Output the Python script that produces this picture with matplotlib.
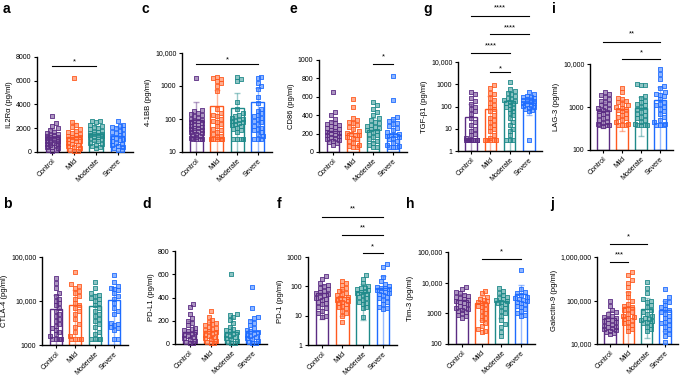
import matplotlib
matplotlib.use("Agg")
import matplotlib.pyplot as plt
import numpy as np
from matplotlib.colors import to_rgba
from matplotlib.ticker import FuncFormatter, NullLocator

plt.rcParams['font.family'] = ['Liberation Sans', 'DejaVu Sans']

groups = ['Control', 'Mild', 'Moderate', 'Severe']
colors = ['#5b2c83', '#ff5a1f', '#1f8a8a', '#1e6cff']

# values (pg/ml), one list per group
il2ra = [
    [3050, 2450, 2200, 2000, 1850, 1700, 1600, 1500, 1450, 1400, 1350, 1300, 1250, 1200, 1150, 1100,
     1050, 1000, 950, 900, 850, 800, 700, 650, 600, 550, 450, 400, 300, 200, 150, 100],
    [6250, 2500, 2300, 2100, 1900, 1800, 1700, 1600, 1500, 1400, 1350, 1300, 1250, 1200, 1100, 1000,
     950, 900, 800, 700, 600, 500, 400, 300, 200, 100, 50],
    [2650, 2600, 2500, 2300, 2200, 2100, 2000, 1900, 1800, 1700, 1650, 1600, 1550, 1500, 1450, 1400,
     1350, 1300, 1250, 1200, 1100, 1000, 900, 800, 700, 600, 500, 400, 300],
    [2600, 2300, 2200, 2100, 2000, 1900, 1800, 1700, 1600, 1500, 1400, 1300, 1200, 1100, 1000, 900,
     800, 700, 600, 500, 400, 300, 200, 150],
]
il2ra_mean = [1250, 1300, 1550, 1380]
il2ra_sd = [650, 1100, 650, 700]

cd4_1bb = [
    [1800, 190, 170, 150, 140, 130, 120, 110, 100, 95, 90, 85, 80, 75, 70, 65, 60, 58, 55, 52, 50, 48,
     45, 42, 40, 38, 35, 32, 30, 28, 26, 25, 25, 24, 24],
    [1900, 1800, 1600, 1400, 1200, 1000, 700, 200, 150, 130, 120, 100, 90, 80, 70, 60, 50, 45, 40, 35,
     30, 28, 25, 25, 24, 24, 24],
    [1900, 1600, 1400, 320, 200, 150, 130, 120, 110, 100, 95, 90, 85, 80, 75, 70, 65, 60, 55, 50, 45,
     40, 25, 25, 24, 24],
    [1900, 1800, 1200, 1000, 800, 450, 300, 200, 180, 150, 130, 120, 110, 100, 90, 80, 70, 60, 55, 50,
     45, 40, 35, 30, 25, 24, 24],
]
cd4_1bb_mean = [95, 240, 215, 320]
cd4_1bb_sd = [240, 520, 420, 560]

cd86 = [
    [650, 430, 400, 360, 330, 310, 300, 290, 280, 270, 260, 250, 240, 230, 220, 210, 200, 190, 180,
     170, 160, 150, 140, 130, 120, 110, 100, 80],
    [580, 490, 370, 350, 330, 310, 290, 270, 250, 230, 210, 200, 190, 180, 160, 150, 140, 120, 100, 80,
     60, 50, 50],
    [540, 510, 470, 430, 400, 370, 350, 330, 310, 290, 280, 270, 260, 250, 240, 230, 220, 200, 180,
     160, 140, 120, 100, 80, 50, 50],
    [830, 570, 380, 360, 340, 320, 300, 280, 260, 240, 220, 200, 190, 180, 170, 160, 150, 140, 120,
     100, 80, 60, 50, 50, 50],
]
cd86_mean = [225, 205, 240, 195]
cd86_sd = [110, 130, 130, 160]

tgfb1 = [
    [450, 350, 250, 180, 130, 100, 80, 60, 45, 30, 20, 15, 10, 8, 6, 5, 4, 3, 3, 3, 3, 3, 3, 3, 3, 3],
    [950, 700, 400, 350, 250, 200, 150, 120, 100, 80, 60, 40, 30, 25, 20, 15, 12, 10, 8, 5, 4, 3, 3, 3,
     3, 3],
    [1200, 600, 500, 400, 350, 300, 250, 220, 200, 180, 160, 150, 140, 120, 100, 90, 80, 60, 50, 40,
     30, 20, 15, 10, 8, 5, 3, 3, 3],
    [450, 350, 300, 280, 260, 240, 220, 200, 190, 180, 170, 160, 150, 140, 130, 120, 110, 100, 90, 80,
     70, 60, 3],
]
tgfb1_mean = [35, 78, 185, 150]
tgfb1_sd = [100, 220, 250, 110]

lag3 = [
    [2200, 2000, 1900, 1700, 1500, 1400, 1300, 1200, 1100, 1000, 950, 900, 850, 800, 750, 700, 650,
     600, 550, 500, 450, 420, 400, 380, 380, 380, 370],
    [2700, 2200, 1600, 1500, 1400, 1300, 1200, 1100, 1000, 950, 900, 850, 800, 700, 650, 600, 550, 500,
     450, 400, 380, 380, 380],
    [3500, 3300, 3300, 1800, 1600, 1400, 1300, 1200, 1100, 1000, 900, 800, 750, 700, 650, 600, 550,
     500, 450, 400, 380, 380, 380, 380],
    [7500, 6000, 4500, 3000, 2700, 2200, 2000, 1900, 1800, 1500, 1300, 1200, 1100, 1000, 900, 800, 700,
     600, 500, 450, 400, 380, 380, 380],
]
lag3_mean = [820, 880, 950, 1450]
lag3_sd = [500, 600, 740, 1500]

ctla4 = [
    [33000, 25000, 20000, 15000, 13000, 11000, 10000, 9000, 8000, 7000, 6000, 5000, 4500, 4000, 3500,
     3000, 2700, 2400, 2200, 2000, 1800, 1600, 1400, 1400, 1400, 1400],
    [45000, 24000, 22000, 20000, 17000, 15000, 13000, 11000, 9000, 8000, 7000, 6000, 5000, 4000, 3000,
     2500, 2000, 1600, 1400, 1400, 1400, 1400],
    [27000, 20000, 15000, 14000, 13000, 12000, 11000, 10000, 9000, 8000, 7000, 6000, 5000, 4500, 4000,
     3500, 3000, 2500, 2000, 1800, 1400, 1400, 1400, 1400],
    [40000, 27000, 22000, 20000, 19000, 18000, 15000, 13000, 11000, 9000, 7000, 6000, 5000, 3200, 3000,
     2800, 2600, 2400, 2200, 1400, 1400],
]
ctla4_mean = [6500, 8300, 7800, 10400]
ctla4_sd = [7000, 9500, 6500, 10000]

pdl1 = [
    [340, 320, 260, 220, 200, 180, 160, 140, 130, 120, 110, 100, 90, 80, 70, 60, 50, 40, 30, 20, 10, 5],
    [280, 230, 210, 190, 180, 170, 160, 150, 140, 130, 120, 110, 100, 90, 80, 70, 60, 50, 40, 30, 20,
     10, 5],
    [600, 260, 250, 230, 210, 180, 150, 130, 120, 110, 100, 90, 80, 70, 60, 50, 40, 30, 20, 10, 5],
    [490, 310, 230, 220, 200, 180, 160, 140, 120, 110, 100, 90, 80, 70, 60, 50, 40, 30, 20, 10, 5],
]
pdl1_mean = [105, 110, 105, 110]
pdl1_sd = [90, 75, 115, 100]

pd1 = [
    [220, 180, 130, 110, 100, 90, 80, 70, 65, 60, 55, 50, 45, 40, 38, 35, 30, 28, 25, 20, 18, 15, 12,
     10, 9],
    [150, 130, 110, 90, 80, 70, 60, 55, 50, 45, 40, 38, 35, 32, 30, 28, 25, 22, 20, 18, 15, 12, 10, 6],
    [240, 180, 130, 100, 90, 85, 80, 75, 70, 65, 60, 55, 50, 45, 40, 35, 30, 28, 25, 20, 18, 9],
    [600, 450, 210, 150, 120, 100, 95, 90, 85, 80, 75, 70, 65, 60, 55, 50, 45, 40, 35, 30, 25, 20, 18,
     17],
]
pd1_mean = [58, 45, 62, 88]
pd1_sd = [50, 35, 55, 130]

tim3 = [
    [7000, 6000, 5000, 4500, 4000, 3800, 3500, 3200, 3000, 2800, 2600, 2400, 2200, 2000, 1800, 1600,
     1500, 1400, 1300, 1200, 1100, 1000, 900, 800, 700],
    [5500, 4500, 3500, 3000, 2800, 2600, 2400, 2200, 2000, 1800, 1600, 1400, 1200, 1000, 800, 700, 600,
     500, 400, 300, 260, 250],
    [6500, 5500, 4500, 4000, 3500, 3200, 3000, 2800, 2600, 2400, 2200, 2000, 1800, 1500, 1200, 1000,
     800, 600, 450, 350, 250, 180],
    [26000, 6000, 5000, 4500, 4000, 3500, 3200, 3000, 2800, 2600, 2400, 2200, 2000, 1800, 1600, 1400,
     1200, 1000, 900, 800],
]
tim3_mean = [2800, 2100, 2500, 4200]
tim3_sd = [1500, 1500, 1800, 4500]

gal9 = [
    [100000, 75000, 60000, 55000, 50000, 45000, 42000, 40000, 38000, 36000, 34000, 32000, 30000, 28000,
     26000, 25000, 24000, 23000, 22000, 21000, 20000, 19000, 18000, 17000],
    [450000, 380000, 300000, 250000, 200000, 150000, 120000, 100000, 85000, 75000, 70000, 65000, 60000,
     55000, 50000, 45000, 42000, 40000, 38000, 35000, 32000, 30000, 28000, 25000, 22000, 20000],
    [270000, 190000, 150000, 110000, 100000, 90000, 80000, 70000, 60000, 55000, 50000, 45000, 40000,
     38000, 36000, 34000, 32000, 30000, 28000, 25000, 22000, 20000],
    [180000, 120000, 100000, 90000, 80000, 70000, 65000, 60000, 55000, 50000, 45000, 40000, 35000,
     32000, 30000, 28000, 25000, 22000, 20000, 17000, 15000, 11000],
]
gal9_mean = [40000, 70000, 64000, 60000]
gal9_sd = [18000, 85000, 50000, 40000]

# significance brackets: (group from, group to, stars)
sig_a = [(0, 2, '*')]
sig_c = [(0, 3, '*')]
sig_e = [(2, 3, '*')]
sig_g = [(0, 3, '****'), (1, 3, '****'), (0, 2, '****'), (1, 2, '*')]
sig_i = [(0, 3, '**'), (1, 3, '*')]
sig_f = [(0, 3, '**'), (1, 3, '**'), (2, 3, '*')]
sig_h = [(1, 3, '*')]
sig_j = [(0, 2, '*'), (0, 1, '***')]

W, H = 685, 375
fig = plt.figure(figsize=(W / 100, H / 100), dpi=100)


def fmt(v, pos):
    if v >= 10000:
        return f'{int(round(v)):,}'
    return f'{v:g}'


def swarm(ypix, size, maxoff):
    step = size / 2
    cands = [0.0]
    k = 1
    while k * step <= maxoff + 1e-9:
        cands += [k * step, -k * step]
        k += 1
    offs = np.zeros(len(ypix))
    placed = []
    for i in np.argsort(ypix):
        best, best_bad = 0.0, None
        for c in cands:
            bad = 0.0
            for px, py in placed:
                dx = size - abs(c - px)
                dy = size - abs(ypix[i] - py)
                if dx > 0 and dy > 0:
                    bad += dx * dy
            if best_bad is None or bad < best_bad - 1e-6:
                best, best_bad = c, bad
            if bad == 0:
                break
        offs[i] = best
        placed.append((best, ypix[i]))
    return offs


def panel(letter, box, data, mean, sd, ylabel, ylim, ticks, log, sig, sig_y, letter_xy):
    l, t, r, b = box
    ax = fig.add_axes([l / W, 1 - b / H, (r - l) / W, (b - t) / H])
    xlim = (-0.7, 3.7)
    ax.set_xlim(*xlim)
    if log:
        ax.set_yscale('log')
    ax.set_ylim(*ylim)
    hpx, wpx = b - t, r - l
    unit = wpx / (xlim[1] - xlim[0])
    bottom = ylim[0]
    for i, vals in enumerate(data):
        c = colors[i]
        ax.bar(i, mean[i] - bottom, bottom=bottom, width=0.62, facecolor='white',
               edgecolor=c, linewidth=1.0, zorder=1)
        lo = min(sd[i], mean[i] - bottom * 1.001)
        ax.errorbar(i, mean[i], yerr=[[lo], [sd[i]]], fmt='none', ecolor=to_rgba(c, 0.45),
                    elinewidth=1.0, capsize=2, capthick=1.0, zorder=2)
        v = np.array(vals, dtype=float)
        if log:
            yp = (np.log10(v) - np.log10(ylim[0])) / (np.log10(ylim[1]) - np.log10(ylim[0])) * hpx
        else:
            yp = (v - ylim[0]) / (ylim[1] - ylim[0]) * hpx
        offs = swarm(yp, 3.8, 5.7)
        ax.scatter(i + offs / unit, v, marker='s', s=10.5, facecolor=to_rgba(c, 0.5),
                   edgecolor=c, linewidth=0.6, zorder=3, clip_on=False)
    ax.set_yticks(ticks)
    ax.yaxis.set_minor_locator(NullLocator())
    ax.yaxis.set_major_formatter(FuncFormatter(fmt))
    ax.set_xticks(range(4))
    ax.set_xticklabels(groups, rotation=45, ha='right', rotation_mode='anchor')
    ax.tick_params(axis='both', labelsize=5, width=0.8, length=2.5, pad=1.5)
    for s in ('top', 'right'):
        ax.spines[s].set_visible(False)
    for s in ('left', 'bottom'):
        ax.spines[s].set_linewidth(1.0)
    ax.set_ylabel(ylabel, fontsize=5.5, labelpad=2)
    tr = ax.get_xaxis_transform()
    for (g1, g2, stars), (yl, ys) in zip(sig, sig_y):
        ax.plot([g1, g2], [yl, yl], transform=tr, color='black', lw=0.8, clip_on=False)
        ax.text((g1 + g2) / 2, ys, stars, transform=tr, ha='center', va='center', fontsize=5.5)
    fig.text(letter_xy[0] / W, 1 - letter_xy[1] / H, letter, fontsize=10, fontweight='bold',
             va='top', ha='left')
    return ax


panel('a', (37, 57, 133, 152), il2ra, il2ra_mean, il2ra_sd, 'IL2Rα (pg/ml)', (0, 8000),
      [0, 2000, 4000, 6000, 8000], False, sig_a, [(0.905, 0.95)], (3, 2))
panel('c', (182, 53, 272, 152), cd4_1bb, cd4_1bb_mean, cd4_1bb_sd, '4-1BB (pg/ml)', (10, 10000),
      [10, 100, 1000, 10000], True, sig_c, [(0.89, 0.93)], (142, 2))
panel('e', (319, 60, 407, 152), cd86, cd86_mean, cd86_sd, 'CD86 (pg/ml)', (0, 1000),
      [0, 200, 400, 600, 800, 1000], False, sig_e, [(0.957, 1.03)], (290, 2))
panel('g', (458, 62, 542, 151), tgfb1, tgfb1_mean, tgfb1_sd, 'TGF-β1 (pg/ml)', (1, 10000),
      [1, 10, 100, 1000, 10000], True, sig_g,
      [(1.517, 1.61), (1.315, 1.38), (1.10, 1.18), (0.89, 0.92)], (423, 2))
panel('i', (590, 64, 673, 150), lag3, lag3_mean, lag3_sd, 'LAG-3 (pg/ml)', (100, 10000),
      [100, 1000, 10000], True, sig_i, [(1.256, 1.35), (1.058, 1.13)], (552, 2))
panel('b', (42, 257, 128, 345), ctla4, ctla4_mean, ctla4_sd, 'CTLA-4 (pg/ml)', (1000, 100000),
      [1000, 10000, 100000], True, [], [], (3, 197))
panel('d', (175, 251, 267, 344), pdl1, pdl1_mean, pdl1_sd, 'PD-L1 (pg/ml)', (0, 800),
      [0, 200, 400, 600, 800], False, [], [], (142, 197))
panel('f', (308, 257, 397, 345), pd1, pd1_mean, pd1_sd, 'PD-1 (pg/ml)', (1, 1000),
      [1, 10, 100, 1000], True, sig_f, [(1.455, 1.55), (1.25, 1.33), (1.045, 1.12)], (277, 197))
panel('h', (448, 252, 535, 344), tim3, tim3_mean, tim3_sd, 'Tim-3 (pg/ml)', (100, 100000),
      [100, 1000, 10000, 100000], True, sig_h, [(0.924, 1.0)], (406, 197))
panel('j', (597, 257, 678, 344), gal9, gal9_mean, gal9_sd, 'Galectin-9 (pg/ml)', (10000, 1000000),
      [10000, 100000, 1000000], True, sig_j, [(1.15, 1.23), (0.94, 1.02)], (550, 197))

fig.savefig('out.png', dpi=100)
